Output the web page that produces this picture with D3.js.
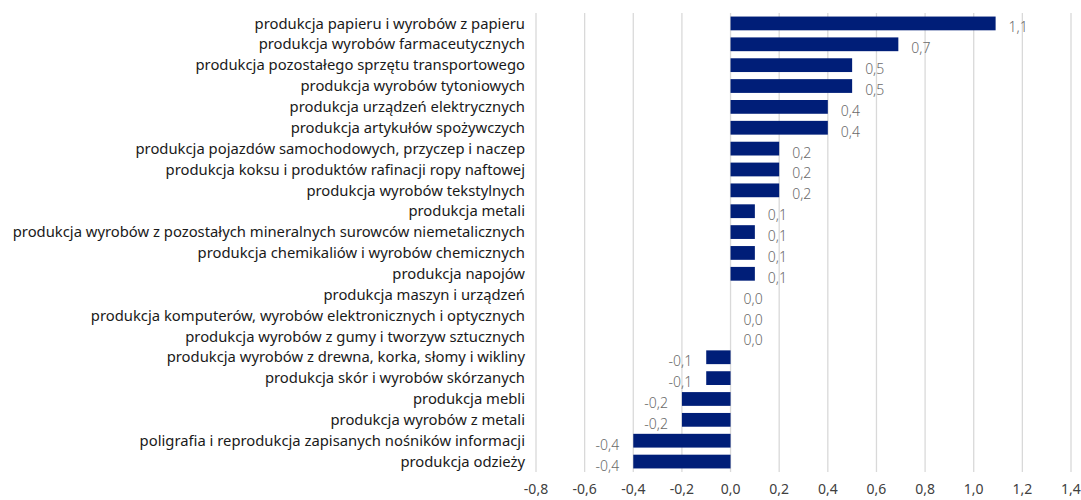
<!DOCTYPE html>
<html>
<head>
<meta charset="utf-8">
<script src="https://cdn.jsdelivr.net/npm/d3@7"></script>
<style>
  body { margin: 0; background: #fff; }
  svg text { font-family: "Noto Sans", "Open Sans", sans-serif; }
</style>
</head>
<body>
<div id="chart"></div>
<script>
var categories = [
  "produkcja papieru i wyrobów z papieru",
  "produkcja wyrobów farmaceutycznych",
  "produkcja pozostałego sprzętu transportowego",
  "produkcja wyrobów tytoniowych",
  "produkcja urządzeń elektrycznych",
  "produkcja artykułów spożywczych",
  "produkcja pojazdów samochodowych, przyczep i naczep",
  "produkcja koksu i produktów rafinacji ropy naftowej",
  "produkcja wyrobów tekstylnych",
  "produkcja metali",
  "produkcja wyrobów z pozostałych mineralnych surowców niemetalicznych",
  "produkcja chemikaliów i wyrobów chemicznych",
  "produkcja napojów",
  "produkcja maszyn i urządzeń",
  "produkcja komputerów, wyrobów elektronicznych i optycznych",
  "produkcja wyrobów z gumy i tworzyw sztucznych",
  "produkcja wyrobów z drewna, korka, słomy i wikliny",
  "produkcja skór i wyrobów skórzanych",
  "produkcja mebli",
  "produkcja wyrobów z metali",
  "poligrafia i reprodukcja zapisanych nośników informacji",
  "produkcja odzieży"
];
var values = [1.09, 0.69, 0.5, 0.5, 0.4, 0.4, 0.2, 0.2, 0.2, 0.1, 0.1, 0.1, 0.1,
  0.0, 0.0, 0.0, -0.1, -0.1, -0.2, -0.2, -0.4, -0.4];
var xTicks = [-0.8, -0.6, -0.4, -0.2, 0, 0.2, 0.4, 0.6, 0.8, 1.0, 1.2, 1.4];

var width = 1081, height = 500;
var margin = { top: 13, right: 10, bottom: 28, left: 536 };

var svg = d3.select("#chart").append("svg")
  .attr("width", width)
  .attr("height", height);

var x = d3.scaleLinear()
  .domain([-0.8, 1.4])
  .range([margin.left, 1071]);

var y = d3.scaleBand()
  .domain(categories)
  .range([margin.top, height - margin.bottom])
  .paddingInner(0.34)
  .paddingOuter(0.17);

var fmt = function (v) { return d3.format(".1f")(v).replace(".", ",").replace("−", "-"); };

// gridlines
svg.append("g")
  .selectAll("line")
  .data(xTicks)
  .enter()
  .append("line")
  .attr("x1", function (d) { return x(d); })
  .attr("x2", function (d) { return x(d); })
  .attr("y1", margin.top)
  .attr("y2", height - margin.bottom)
  .attr("stroke", "#d9d9d9")
  .attr("stroke-width", 1.3);

// x tick labels
svg.append("g")
  .selectAll("text")
  .data(xTicks)
  .enter()
  .append("text")
  .attr("x", function (d) { return x(d); })
  .attr("y", 494)
  .attr("text-anchor", "middle")
  .attr("fill", "#404040")
  .style("font-size", "14px")
  .text(function (d) { return fmt(d); });

// bars
svg.append("g")
  .selectAll("rect")
  .data(values)
  .enter()
  .append("rect")
  .attr("x", function (d) { return x(Math.min(0, d)); })
  .attr("y", function (d, i) { return y(categories[i]); })
  .attr("width", function (d) { return Math.abs(x(d) - x(0)); })
  .attr("height", y.bandwidth())
  .attr("fill", "#001e78");

// value labels
svg.append("g")
  .selectAll("text")
  .data(values)
  .enter()
  .append("text")
  .attr("x", function (d) { return d < 0 ? x(d) - 14 : x(d) + 13; })
  .attr("y", function (d, i) { return y(categories[i]) + y.bandwidth() / 2 + 9; })
  .attr("text-anchor", function (d) { return d < 0 ? "end" : "start"; })
  .attr("fill", "#6a6a6a")
  .style("font-size", "14px")
  .style("font-weight", 300)
  .text(function (d) { return fmt(d); });

// category labels
svg.append("g")
  .selectAll("text")
  .data(categories)
  .enter()
  .append("text")
  .attr("x", 525)
  .attr("y", function (d) { return y(d) + y.bandwidth() / 2; })
  .attr("dy", "0.35em")
  .attr("text-anchor", "end")
  .attr("fill", "#1a1a1a")
  .style("font-size", "14.8px")
  .text(function (d) { return d; });
</script>
</body>
</html>
